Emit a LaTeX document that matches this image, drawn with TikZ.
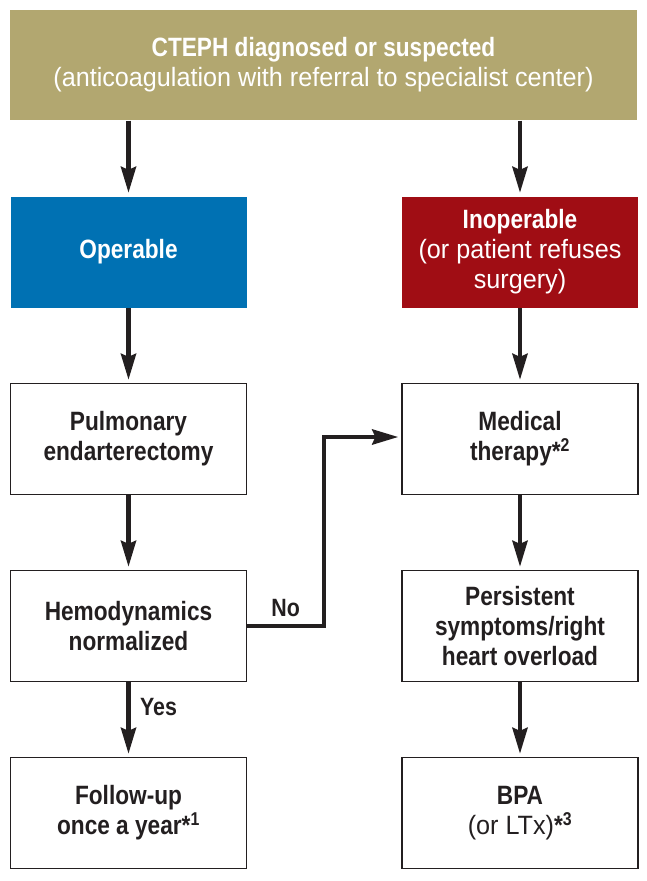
\documentclass[tikz,border=0pt]{standalone}
\usepackage{fontspec}
\setmainfont[FakeStretch=0.95, BoldFeatures={FakeStretch=0.855}]{Liberation Sans}
\usetikzlibrary{arrows.meta}
\definecolor{ctephtan}{HTML}{B2A770}
\definecolor{ctephblue}{HTML}{0071B3}
\definecolor{ctephred}{HTML}{A00D14}
\definecolor{ctephink}{HTML}{231F20}
\begin{document}
\begin{tikzpicture}[x=1pt,y=-1pt,
    box/.style={draw=ctephink, line width=1.3pt, fill=white, text=ctephink,
      minimum width=236pt, minimum height=111pt, inner sep=0pt, align=center,
      font=\bfseries\fontsize{26.5}{30}\selectfont},
    colbox/.style={box, draw=none, text=white},
    flow/.style={draw=ctephink, line width=4.5pt, shorten >=3pt,
      -{Stealth[length=26pt,width=15pt,inset=3pt]}},
    lbl/.style={text=ctephink, font=\bfseries\fontsize{25}{28}\selectfont}]
  \useasboundingbox (0,0) rectangle (646,881);
  % Header
  \node[colbox, fill=ctephtan, minimum width=627pt, minimum height=110pt] (top) at (323.5,65)
    {CTEPH diagnosed or suspected\\\mdseries(anticoagulation with referral to specialist center)};
  % Left column
  \node[colbox, fill=ctephblue] (oper) at (128.5,252) {Operable};
  \node[box] (pea) at (128.5,439) {Pulmonary\\endarterectomy};
  \node[box] (hemo) at (128.5,626) {Hemodynamics\\normalized};
  \node[box] (follow) at (128.5,813) {Follow-up\\once a year*\textsuperscript{1}};
  % Right column
  \node[colbox, fill=ctephred] (inop) at (520,252) {Inoperable\\\mdseries(or patient refuses\\\mdseries surgery)};
  \node[box] (med) at (520,439) {Medical\\therapy*\textsuperscript{2}};
  \node[box] (pers) at (520,626) {Persistent\\symptoms/right\\heart overload};
  \node[box] (bpa) at (520,813) {BPA\\\mdseries(or LTx)\bfseries*\textsuperscript{3}};
  % Arrows
  \draw[flow] (top.south -| oper.north) -- (oper.north);
  \draw[flow] (top.south -| inop.north) -- (inop.north);
  \draw[flow] (oper) -- (pea);
  \draw[flow] (pea) -- (hemo);
  \draw[flow] (hemo) -- node[lbl, pos=0.33, right=6pt] (yes) {Yes} (follow);
  \draw[flow] (inop) -- (med);
  \draw[flow] (med) -- (pers);
  \draw[flow] (pers) -- (bpa);
  \coordinate (bend) at (324,437);
  \draw[flow] (hemo.east) -- node[lbl, above=4pt] (no) {No} (hemo.east -| bend)
    -- (bend) -- (bend -| med.west);
\end{tikzpicture}
\end{document}
